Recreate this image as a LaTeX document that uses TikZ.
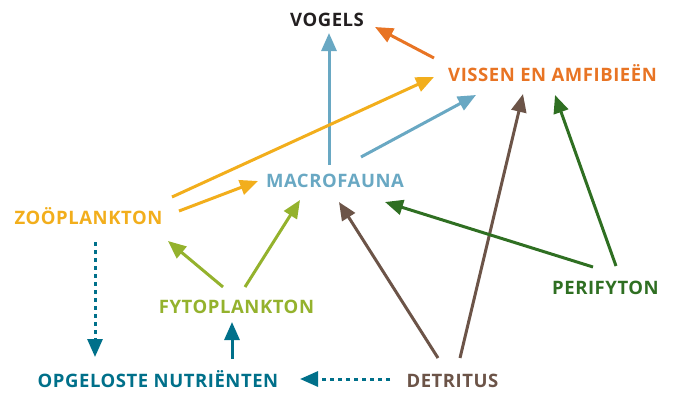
\documentclass[tikz,border=0pt]{standalone}
\usepackage{fontspec}
\setmainfont{Open Sans}[LetterSpace=3]
\usetikzlibrary{arrows.meta}
\definecolor{vogelblack}{RGB}{35,31,32}
\definecolor{visorange}{RGB}{232,116,36}
\definecolor{zooyellow}{RGB}{242,174,28}
\definecolor{macroblue}{RGB}{105,168,195}
\definecolor{fytogreen}{RGB}{148,178,45}
\definecolor{detrbrown}{RGB}{108,84,72}
\definecolor{perigreen}{RGB}{47,111,34}
\definecolor{nutrteal}{RGB}{0,112,138}
\begin{document}
\begin{tikzpicture}[x=1pt, y=-1pt,
  lbl/.style={anchor=base, inner sep=0pt, font=\fontsize{18.5}{20}\selectfont\bfseries},
  arr/.style={line width=3pt, -{Triangle[length=18pt,width=15pt]}},
  dots/.style={arr, dash pattern=on 4pt off 4pt}]
\useasboundingbox (0,0) rectangle (676,394);
% soorten
\node[lbl, vogelblack] (vogels) at (327,26) {VOGELS};
\node[lbl, visorange] (vissen) at (552.5,81) {VISSEN EN AMFIBIEËN};
\node[lbl, macroblue] (macro) at (335,187) {MACROFAUNA};
\node[lbl, zooyellow] (zoo) at (88.5,224) {ZOÖPLANKTON};
\node[lbl, fytogreen] (fyto) at (236.5,313) {FYTOPLANKTON};
\node[lbl, perigreen] (peri) at (605.5,294) {PERIFYTON};
\node[lbl, nutrteal] (nutr) at (158,387) {OPGELOSTE NUTRIËNTEN};
\node[lbl, detrbrown] (detr) at (452.5,387) {DETRITUS};
% pijlen
\draw[arr, macroblue] ([shift={(-6,-22)}]macro.base) -- ([shift={(2,7)}]vogels.base);
\draw[arr, visorange] ([shift={(-118.5,-23)}]vissen.base) -- ([shift={(48,1)}]vogels.base);
\draw[arr, zooyellow] ([shift={(83.5,-27)}]zoo.base) -- ([shift={(-118.5,-4)}]vissen.base);
\draw[arr, zooyellow] ([shift={(90.5,-13)}]zoo.base) -- ([shift={(-77,-6)}]macro.base);
\draw[arr, macroblue] ([shift={(26,-30)}]macro.base) -- ([shift={(-76.5,14)}]vissen.base);
\draw[arr, fytogreen] ([shift={(-13.5,-26)}]fyto.base) -- ([shift={(79.5,17)}]zoo.base);
\draw[arr, fytogreen] ([shift={(8.5,-26)}]fyto.base) -- ([shift={(-35,13)}]macro.base);
\draw[arr, detrbrown] ([shift={(-14.5,-29)}]detr.base) -- ([shift={(4,15)}]macro.base);
\draw[arr, detrbrown] ([shift={(7.5,-29)}]detr.base) -- ([shift={(-29.5,13)}]vissen.base);
\draw[arr, perigreen] ([shift={(-12.5,-27)}]peri.base) -- ([shift={(50,15)}]macro.base);
\draw[arr, perigreen] ([shift={(10.5,-28)}]peri.base) -- ([shift={(2.5,14)}]vissen.base);
\draw[dots, nutrteal] ([shift={(6.5,18)}]zoo.base) -- ([shift={(-63,-30)}]nutr.base);
\draw[arr, nutrteal] ([shift={(74,-28)}]nutr.base) -- ([shift={(-4.5,9)}]fyto.base);
\draw[dots, nutrteal] ([shift={(-62.5,-8)}]detr.base) -- ([shift={(142,-8)}]nutr.base);
\end{tikzpicture}
\end{document}
